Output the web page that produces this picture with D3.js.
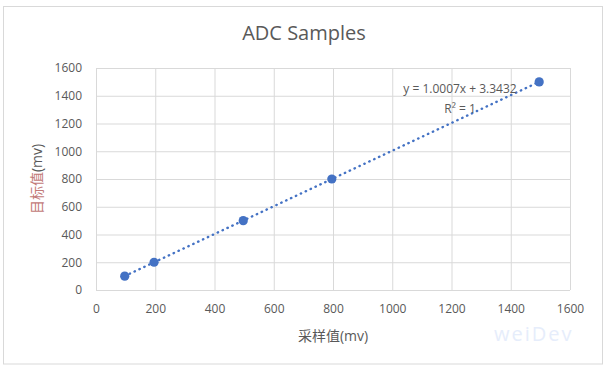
<!DOCTYPE html>
<html>
<head>
<meta charset="utf-8">
<script src="https://cdn.jsdelivr.net/npm/d3@7/dist/d3.min.js"></script>
<style>
body { margin: 0; background: #fff; }
text { font-family: "Open Sans", "Noto Sans CJK SC", sans-serif; }
</style>
</head>
<body>
<script>
// datos
var sampleValues = [97, 196, 497, 796, 1496]    // 采样值(mv)
var targetValues = [100, 200, 500, 800, 1500]   // 目标值(mv)
var xTicks = [0, 200, 400, 600, 800, 1000, 1200, 1400, 1600]
var yTicks = [0, 200, 400, 600, 800, 1000, 1200, 1400, 1600]
var trendLabels = ["y = 1.0007x + 3.3432", "R² = 1"]

var width = 609
var height = 370

var margin = {
    top: 68,
    bottom: 80,
    left: 96,
    right: 39
}

var gris = "#595959"
var azul = "#4472c4"

var escalaX = d3.scaleLinear()
    .domain([0, 1600])
    .range([margin.left, width - margin.right])

var escalaY = d3.scaleLinear()
    .domain([0, 1600])
    .range([height - margin.bottom, margin.top])

var svg = d3.select("body")
    .append("svg")
    .attr("width", width)
    .attr("height", height)

// marco exterior
svg.append("rect")
    .attr("x", 3.5)
    .attr("y", 6.5)
    .attr("width", 599)
    .attr("height", 357.5)
    .attr("fill", "#fff")
    .attr("stroke", "#d9d9d9")

// titulo
svg.append("text")
    .attr("x", 304)
    .attr("y", 40)
    .attr("text-anchor", "middle")
    .attr("font-size", 20)
    .attr("fill", gris)
    .text("ADC Samples")

// eje Y con rejilla
var ejeY = d3.axisLeft(escalaY)
    .tickValues(yTicks)
    .tickFormat(d3.format("d"))
    .tickSizeInner(-(width - margin.left - margin.right))
    .tickSizeOuter(0)
    .tickPadding(14)

var gY = svg.append("g")
    .attr("transform", "translate(" + margin.left + ",0)")
    .call(ejeY)
gY.select(".domain").remove()
gY.selectAll("line").attr("stroke", "#d9d9d9")
gY.selectAll("text")
    .attr("fill", gris)
    .attr("font-size", 12)
    .attr("font-family", "Open Sans")

// eje X con rejilla
var ejeX = d3.axisBottom(escalaX)
    .tickValues(xTicks)
    .tickFormat(d3.format("d"))
    .tickSizeInner(-(height - margin.top - margin.bottom))
    .tickSizeOuter(0)
    .tickPadding(14)

var gX = svg.append("g")
    .attr("transform", "translate(0," + (height - margin.bottom) + ")")
    .call(ejeX)
gX.select(".domain").remove()
gX.selectAll("line").attr("stroke", "#d9d9d9")
gX.selectAll("text")
    .attr("fill", gris)
    .attr("font-size", 12)
    .attr("font-family", "Open Sans")

// linea de tendencia (regresion lineal de los puntos)
var mx = d3.mean(sampleValues)
var my = d3.mean(targetValues)
var sxy = d3.sum(sampleValues, (x, i) => (x - mx) * (targetValues[i] - my))
var sxx = d3.sum(sampleValues, x => (x - mx) * (x - mx))
var pendiente = sxy / sxx
var corte = my - pendiente * mx
var xExt = d3.extent(sampleValues)

svg.append("line")
    .attr("x1", escalaX(xExt[0]))
    .attr("y1", escalaY(pendiente * xExt[0] + corte))
    .attr("x2", escalaX(xExt[1]))
    .attr("y2", escalaY(pendiente * xExt[1] + corte))
    .attr("stroke", azul)
    .attr("stroke-width", 2.4)
    .attr("stroke-linecap", "round")
    .attr("stroke-dasharray", "0.4 5")

// puntos
svg.selectAll("circle")
    .data(sampleValues)
    .enter()
    .append("circle")
    .attr("cx", d => escalaX(d))
    .attr("cy", (d, i) => escalaY(targetValues[i]))
    .attr("r", 4.6)
    .attr("fill", azul)

// ecuacion
svg.selectAll(".trend")
    .data(trendLabels)
    .enter()
    .append("text")
    .attr("class", "trend")
    .attr("x", 460)
    .attr("y", (d, i) => 93 + i * 20)
    .attr("text-anchor", "middle")
    .attr("font-size", 12)
    .attr("fill", gris)
    .text(d => d)

// titulo eje X
svg.append("text")
    .attr("x", (margin.left + width - margin.right) / 2)
    .attr("y", 341)
    .attr("text-anchor", "middle")
    .attr("font-size", 14)
    .attr("fill", gris)
    .text("采样值(mv)")

// titulo eje Y
var tituloY = svg.append("text")
    .attr("transform", "translate(42," + ((margin.top + height - margin.bottom) / 2) + ") rotate(-90)")
    .attr("text-anchor", "middle")
    .attr("font-size", 14)
tituloY.append("tspan").attr("fill", "#c27a78").text("目标值")
tituloY.append("tspan").attr("fill", gris).text("(mv)")

// marca de agua
svg.append("text")
    .attr("x", 494)
    .attr("y", 341)
    .attr("font-family", "DejaVu Sans Mono")
    .attr("font-size", 20)
    .attr("letter-spacing", 2)
    .attr("fill", "#e6edfb")
    .text("weiDev")
</script>
</body>
</html>
